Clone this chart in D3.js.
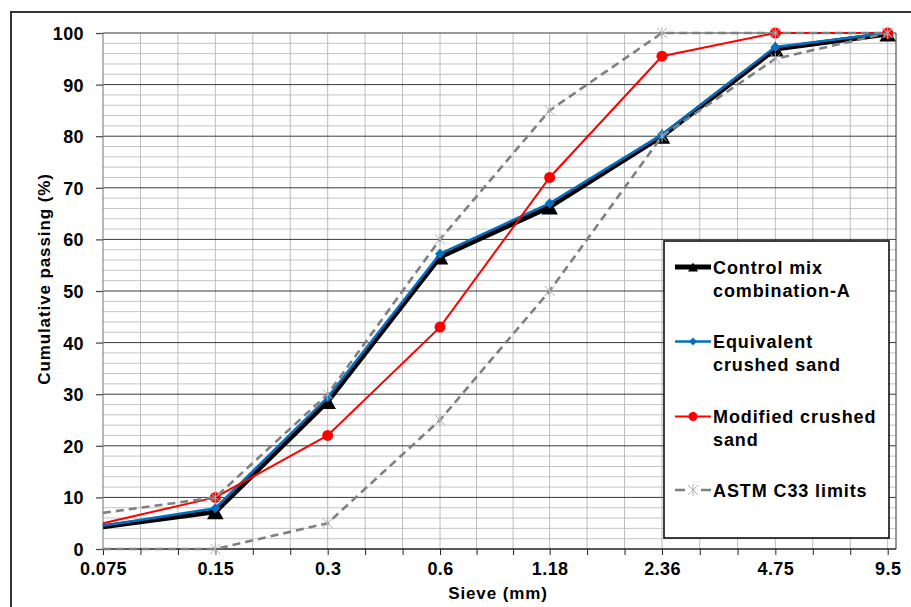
<!DOCTYPE html>
<html><head><meta charset="utf-8">
<script src="https://cdn.jsdelivr.net/npm/d3@7/dist/d3.min.js"></script>
<style>
html,body{margin:0;padding:0;background:#fff;}
svg{display:block;font-family:"Liberation Sans",Arial,sans-serif;font-weight:bold;}
</style></head>
<body><svg id="chart" width="911" height="607"></svg>
<script>
const sieves = [0.075, 0.15, 0.3, 0.6, 1.18, 2.36, 4.75, 9.5];
const sieveLabels = ["0.075","0.15","0.3","0.6","1.18","2.36","4.75","9.5"];
const control = [4.3, 7.2, 28.6, 56.6, 66.3, 80, 96.9, 99.8];
const equivalent = [4.5, 7.9, 29.4, 57.2, 67, 80.3, 97.3, 100];
const modified = [5, 10, 22, 43, 72, 95.5, 100, 100];
const astmUpper = [7, 10, 30, 60, 85, 100, 100, 100];
const astmLower = [0, 0, 5, 25, 50, 80, 95, 100];
const yTicks = [0,10,20,30,40,50,60,70,80,90,100];
const yMinor = d3.range(0, 101, 2);
const legendLabels = [["Control mix","combination-A"],["Equivalent","crushed sand"],["Modified crushed","sand"],["ASTM C33 limits"]];

const svg = d3.select("#chart");
const L = 103, R = 896, T = 33, B = 549;
const x = d3.scaleLog().domain([0.075, 10]).range([L, R]);
const y = d3.scaleLinear().domain([0, 100]).range([B, T]);

// outer frame
svg.append("rect").attr("x",11).attr("y",12).attr("width",940).attr("height",640)
  .attr("fill","none").attr("stroke","#333").attr("stroke-width",2);

// minor vertical positions: thirds between sieve sizes (log space)
const vMinor = [];
for (let i=0;i<sieves.length-1;i++){
  const a=Math.log(sieves[i]), b=Math.log(sieves[i+1]);
  vMinor.push(Math.exp(a+(b-a)/3), Math.exp(a+2*(b-a)/3));
}
const g = svg.append("g");
// horizontal minor
g.selectAll(".hm").data(yMinor.filter(d=>d%10!==0)).join("line")
  .attr("x1",L).attr("x2",R).attr("y1",d=>y(d)).attr("y2",d=>y(d))
  .attr("stroke","#c4c4c4").attr("stroke-width",1);
// vertical grid
g.selectAll(".vm").data(vMinor.concat(sieves.slice(1))).join("line")
  .attr("x1",d=>x(d)).attr("x2",d=>x(d)).attr("y1",T).attr("y2",B)
  .attr("stroke","#bcbcbc").attr("stroke-width",1);
// horizontal major
g.selectAll(".hM").data(yTicks.filter(d=>d>0&&d<100)).join("line")
  .attr("x1",L).attr("x2",R).attr("y1",d=>y(d)).attr("y2",d=>y(d))
  .attr("stroke","#3a3a3a").attr("stroke-width",1);
// plot borders
g.append("line").attr("x1",L).attr("x2",R).attr("y1",T).attr("y2",T).attr("stroke","#777").attr("stroke-width",1.5);
g.append("line").attr("x1",R).attr("x2",R).attr("y1",T).attr("y2",B).attr("stroke","#555").attr("stroke-width",1.2);
g.append("line").attr("x1",L).attr("x2",L).attr("y1",T).attr("y2",B).attr("stroke","#888").attr("stroke-width",1.2);

// axes
const yAxis = d3.axisLeft(y).tickValues(yTicks).tickSize(7).tickPadding(12);
const ya = svg.append("g").attr("transform",`translate(${L},0)`).call(yAxis);
ya.select(".domain").remove();
ya.selectAll(".tick line").attr("stroke","#444").attr("stroke-width",1.2);
ya.selectAll(".tick text").attr("font-size",18).attr("font-family","Liberation Sans, Arial, sans-serif")
  .attr("font-weight","bold").attr("fill","#000").attr("letter-spacing","0.4px").attr("dy","0.36em");

const xAxis = d3.axisBottom(x).tickValues(sieves.concat(vMinor)).tickSize(6)
  .tickFormat(d=>{const i=sieves.indexOf(d);return i>=0?sieveLabels[i]:"";}).tickPadding(7);
const xa = svg.append("g").attr("transform",`translate(0,${B})`).call(xAxis);
xa.select(".domain").attr("stroke","#222").attr("stroke-width",1.3).attr("d",`M${L},0H${R}`);
xa.selectAll(".tick line").attr("stroke","#222").attr("stroke-width",1);
xa.selectAll(".tick text").attr("font-size",18).attr("font-family","Liberation Sans, Arial, sans-serif")
  .attr("font-weight","bold").attr("fill","#000").attr("letter-spacing","0.4px");

// titles
svg.append("text").attr("x",498).attr("y",599).attr("text-anchor","middle")
  .attr("font-size",17).attr("letter-spacing","0.9px").text("Sieve (mm)");
svg.append("text").attr("transform","translate(50,279) rotate(-90)").attr("text-anchor","middle")
  .attr("font-size",17).attr("letter-spacing","0.9px").text("Cumulative passing (%)");

// series
const line = vals => d3.line().x((d,i)=>x(sieves[i])).y(d=>y(d))(vals);
const plot = svg.append("g");
plot.append("path").attr("d",line(control)).attr("fill","none").attr("stroke","#000").attr("stroke-width",5).attr("stroke-linejoin","round");
const tri = (s)=>`M0,${-s/2}L${s*0.55},${s/2}L${-s*0.55},${s/2}Z`;
plot.selectAll(".tri").data(control.slice(1)).join("path")
  .attr("transform",(d,i)=>`translate(${x(sieves[i+1])},${y(d)})`).attr("d",tri(15)).attr("fill","#000");
plot.append("path").attr("d",line(equivalent)).attr("fill","none").attr("stroke","#0070c0").attr("stroke-width",2.5);
plot.selectAll(".dia").data(equivalent.slice(1)).join("path")
  .attr("transform",(d,i)=>`translate(${x(sieves[i+1])},${y(d)})`).attr("d","M0,-5L5,0L0,5L-5,0Z").attr("fill","#0070c0");
plot.append("path").attr("d",line(modified)).attr("fill","none").attr("stroke","#ff0000").attr("stroke-width",2);
plot.selectAll(".cir").data(modified.slice(1)).join("circle")
  .attr("cx",(d,i)=>x(sieves[i+1])).attr("cy",d=>y(d)).attr("r",5.5).attr("fill","#ff0000");
const star = "M-5,-5L5,5M-5,5L5,-5M0,-6L0,6";
[astmUpper, astmLower].forEach(arr=>{
  plot.append("path").attr("d",line(arr)).attr("fill","none").attr("stroke","#808080").attr("stroke-width",2.6).attr("stroke-dasharray","8,5");
  plot.selectAll(null).data(arr.slice(1)).join("path")
    .attr("transform",(d,i)=>`translate(${x(sieves[i+1])},${y(d)})`).attr("d",star)
    .attr("fill","none").attr("stroke","#b0b0b0").attr("stroke-width",1);
});

// legend
const lg = svg.append("g");
lg.append("rect").attr("x",664).attr("y",241).attr("width",225).attr("height",297)
  .attr("fill","#fff").attr("stroke","#000").attr("stroke-width",1.5);
const rowY = [267, 341.5, 416.5, 490];
const sx1 = 675, sx2 = 711, sm = 693;
lg.append("line").attr("x1",sx1).attr("x2",sx2).attr("y1",rowY[0]).attr("y2",rowY[0]).attr("stroke","#000").attr("stroke-width",5);
lg.append("path").attr("transform",`translate(${sm},${rowY[0]})`).attr("d",tri(9)).attr("fill","#000");
lg.append("line").attr("x1",sx1).attr("x2",sx2).attr("y1",rowY[1]).attr("y2",rowY[1]).attr("stroke","#0070c0").attr("stroke-width",2.5);
lg.append("path").attr("transform",`translate(${sm},${rowY[1]})`).attr("d","M0,-4L4,0L0,4L-4,0Z").attr("fill","#0070c0");
lg.append("line").attr("x1",sx1).attr("x2",sx2).attr("y1",rowY[2]).attr("y2",rowY[2]).attr("stroke","#ff0000").attr("stroke-width",2);
lg.append("circle").attr("cx",sm).attr("cy",rowY[2]).attr("r",4.5).attr("fill","#ff0000");
lg.append("line").attr("x1",sx1).attr("x2",sx2).attr("y1",rowY[3]).attr("y2",rowY[3]).attr("stroke","#808080").attr("stroke-width",2.6).attr("stroke-dasharray","10,16");
lg.append("path").attr("transform",`translate(${sm},${rowY[3]})`).attr("d",star).attr("fill","none").attr("stroke","#b0b0b0").attr("stroke-width",1);
legendLabels.forEach((lines,i)=>{
  const t = lg.append("text").attr("x",713).attr("y",rowY[i]+6.5).attr("font-size",18).attr("letter-spacing","0.9px").attr("fill","#000");
  lines.forEach((s,j)=>t.append("tspan").attr("x",713).attr("dy",j?23:0).text(s));
});
</script></body></html>
